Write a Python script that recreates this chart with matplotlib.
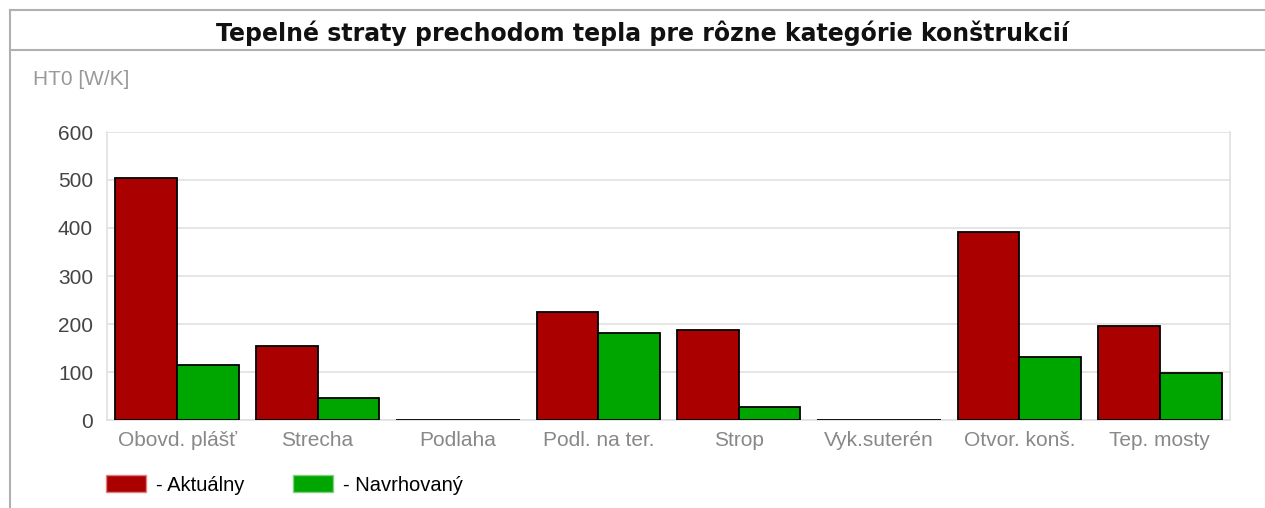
import matplotlib.pyplot as plt
import numpy as np
from matplotlib.lines import Line2D

categories = ["Obovd. plášť", "Strecha", "Podlaha", "Podl. na ter.", "Strop",
              "Vyk.suterén", "Otvor. konš.", "Tep. mosty"]
aktualny = [504, 154, 0, 225, 188, 0, 392, 196]
navrhovany = [115, 46, 0, 181, 27, 0, 131, 98]
series_names = ["- Aktuálny", "- Navrhovaný"]
colors = ["#aa0000", "#00a600"]

W, H = 1265, 508
fig = plt.figure(figsize=(W / 100, H / 100), dpi=100)
plt.rcParams["font.family"] = ["Liberation Sans", "DejaVu Sans"]

# plot area in pixels: x 107..1230, y 132..420
ax = fig.add_axes([107 / W, 1 - 420 / H, (1230 - 107) / W, (420 - 132) / H])

x = np.arange(len(categories))
bw = 0.44
ax.bar(x - bw / 2, aktualny, bw, color=colors[0], edgecolor="black", linewidth=1.3, zorder=3)
ax.bar(x + bw / 2, navrhovany, bw, color=colors[1], edgecolor="black", linewidth=1.3, zorder=3)

ax.set_xlim(-0.5, len(categories) - 0.5)
ax.set_ylim(0, 600)
ax.set_yticks(range(0, 601, 100))
ax.set_xticks(x)
ax.set_xticklabels(categories)
ax.yaxis.grid(True, color="#e0e0e0", linewidth=1.2, zorder=0)
ax.set_axisbelow(True)
for s in ["left", "right", "bottom"]:
    ax.spines[s].set_color("#e0e0e0")
    ax.spines[s].set_linewidth(1.2)
ax.spines["top"].set_visible(False)
ax.tick_params(axis="y", length=0, pad=10, labelsize=15, labelcolor="#444444")
ax.tick_params(axis="x", length=0, pad=8, labelsize=15, labelcolor="#888888")

# frame and title
fig.add_artist(Line2D([10 / W, 1], [1 - 10 / H, 1 - 10 / H], color="#b0b0b0", lw=1.5))
fig.add_artist(Line2D([10 / W, 1], [1 - 50 / H, 1 - 50 / H], color="#b0b0b0", lw=1.5))
fig.add_artist(Line2D([10 / W, 10 / W], [0, 1 - 10 / H], color="#b0b0b0", lw=1.5))
fig.text(642 / W, 1 - 33 / H, "Tepelné straty prechodom tepla pre rôzne kategórie konštrukcií",
         ha="center", va="center", fontsize=17, fontweight="bold", family="DejaVu Sans",
         color="#111111")
fig.text(33 / W, 1 - 80 / H, "HT0 [W/K]", ha="left", va="center", fontsize=15, color="#999999")

handles = [plt.Rectangle((0, 0), 1, 1, facecolor=c, edgecolor=e, linewidth=1)
           for c, e in zip(colors, ["#e08080", "#80d080"])]
fig.legend(handles, series_names, loc="center left", bbox_to_anchor=(100 / W, 1 - 485 / H),
           ncol=2, frameon=False, fontsize=14.5, handlelength=2.0, handleheight=0.85,
           columnspacing=2.4, handletextpad=0.5, borderaxespad=0, borderpad=0.3)

fig.savefig("out.png", dpi=100)
